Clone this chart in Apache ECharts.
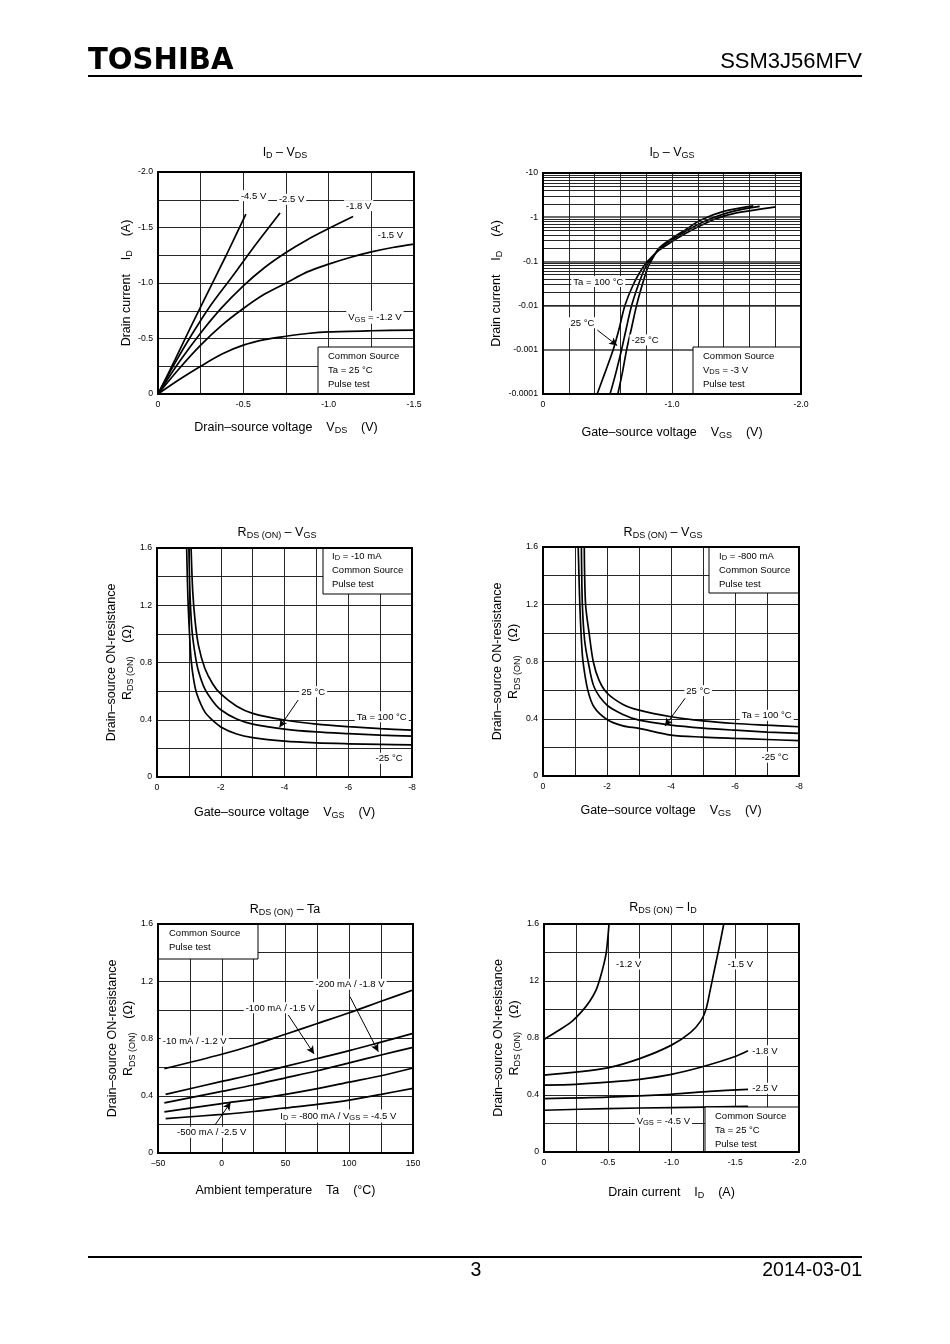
<!DOCTYPE html>
<html><head><meta charset="utf-8">
<script src="https://cdn.jsdelivr.net/npm/echarts@6/dist/echarts.min.js"></script>
<style>html,body{margin:0;padding:0;background:#fff}#c{width:950px;height:1344px}</style>
</head><body><div id="c"></div>
<script>
// ---------------- DATA ----------------
// Chart 1: ID - VDS  [VDS (V), ID (A)]
const idVds_vgs45 = [[0,0],[-0.1,-0.31],[-0.2,-0.63],[-0.3,-0.94],[-0.4,-1.25],[-0.515,-1.62]];
const idVds_vgs25 = [[0,0],[-0.1,-0.28],[-0.2,-0.54],[-0.3,-0.78],[-0.441,-1.07],[-0.55,-1.3],[-0.715,-1.63]];
const idVds_vgs18 = [[0,0],[-0.125,-0.29],[-0.25,-0.55],[-0.375,-0.78],[-0.5,-0.975],[-0.625,-1.14],[-0.75,-1.275],[-0.875,-1.39],[-1.0,-1.49],[-1.143,-1.6]];
const idVds_vgs15 = [[0,0],[-0.125,-0.23],[-0.25,-0.44],[-0.375,-0.62],[-0.5,-0.77],[-0.625,-0.9],[-0.75,-1.0],[-0.875,-1.1],[-1.0,-1.17],[-1.125,-1.23],[-1.25,-1.28],[-1.375,-1.32],[-1.5,-1.35]];
const idVds_vgs12 = [[0,0],[-0.125,-0.13],[-0.25,-0.25],[-0.375,-0.36],[-0.5,-0.44],[-0.625,-0.49],[-0.75,-0.52],[-0.875,-0.545],[-1.0,-0.56],[-1.25,-0.57],[-1.5,-0.575]];
const t1xVals = [0,-0.5,-1.0,-1.5], t1xLabels = ['0','-0.5','-1.0','-1.5'];
const t1yVals = [0,-0.5,-1.0,-1.5,-2.0], t1yLabels = ['0','-0.5','-1.0','-1.5','-2.0'];

// Chart 2: ID - VGS (log)  [VGS (V), ID (A)]
const idVgs_ta100 = [[-0.42,-0.0001],[-0.48,-0.0003],[-0.544,-0.001],[-0.59,-0.003],[-0.635,-0.01],[-0.7,-0.03],[-0.77,-0.07],[-0.81,-0.1],[-0.9,-0.18],[-1.0,-0.28],[-1.1,-0.42],[-1.2,-0.6],[-1.33,-0.9],[-1.5,-1.25],[-1.8,-1.7]];
const idVgs_ta25 = [[-0.52,-0.0001],[-0.565,-0.0003],[-0.609,-0.001],[-0.645,-0.003],[-0.687,-0.01],[-0.74,-0.03],[-0.79,-0.07],[-0.824,-0.1],[-0.9,-0.19],[-1.0,-0.31],[-1.1,-0.47],[-1.25,-0.8],[-1.45,-1.3],[-1.68,-1.75]];
const idVgs_taM25 = [[-0.58,-0.0001],[-0.615,-0.0003],[-0.648,-0.001],[-0.685,-0.003],[-0.725,-0.01],[-0.77,-0.03],[-0.81,-0.07],[-0.837,-0.1],[-0.9,-0.2],[-1.0,-0.33],[-1.1,-0.51],[-1.22,-0.85],[-1.4,-1.35],[-1.63,-1.8]];
const t2xVals = [0,-1.0,-2.0], t2xLabels = ['0','-1.0','-2.0'];
const t2yVals = [0.0001,0.001,0.01,0.1,1,10], t2yLabels = ['-0.0001','-0.001','-0.01','-0.1','-1','-10'];

// Chart 3: RDS(ON) - VGS, ID = -10 mA  [VGS (V), R (ohm)]
const r10_ta100 = [[-1.07,1.6],[-1.12,1.3],[-1.2,1.08],[-1.3,0.92],[-1.5,0.76],[-1.75,0.65],[-2,0.58],[-2.5,0.495],[-3,0.445],[-4,0.398],[-5,0.37],[-6,0.352],[-7,0.338],[-8,0.327]];
const r10_ta25 = [[-1.0,1.6],[-1.04,1.25],[-1.1,1.02],[-1.2,0.85],[-1.3,0.74],[-1.5,0.615],[-1.75,0.53],[-2,0.47],[-2.5,0.405],[-3,0.37],[-4,0.335],[-5,0.315],[-6,0.303],[-7,0.293],[-8,0.285]];
const r10_taM25 = [[-0.93,1.6],[-0.97,1.25],[-1.02,1.0],[-1.07,0.82],[-1.15,0.68],[-1.25,0.58],[-1.5,0.455],[-1.75,0.395],[-2,0.35],[-2.5,0.3],[-3,0.275],[-4,0.25],[-5,0.238],[-6,0.232],[-7,0.228],[-8,0.225]];
// Chart 4: RDS(ON) - VGS, ID = -800 mA
const r800_ta100 = [[-1.29,1.6],[-1.33,1.2],[-1.44,1.0],[-1.57,0.8],[-1.75,0.67],[-2,0.58],[-2.5,0.5],[-3,0.46],[-4,0.414],[-5,0.385],[-6,0.367],[-7,0.355],[-8,0.344]];
const r800_ta25 = [[-1.2,1.6],[-1.23,1.2],[-1.3,0.95],[-1.41,0.8],[-1.6,0.62],[-2,0.495],[-2.5,0.43],[-3,0.39],[-4,0.356],[-5,0.335],[-6,0.32],[-7,0.307],[-8,0.298]];
const r800_taM25 = [[-1.1,1.6],[-1.15,1.2],[-1.2,0.95],[-1.25,0.8],[-1.4,0.6],[-1.6,0.48],[-2,0.395],[-2.5,0.35],[-3,0.333],[-4,0.286],[-5,0.272],[-6,0.263],[-7,0.255],[-8,0.247]];
const t3xVals = [0,-2,-4,-6,-8], t3xLabels = ['0','-2','-4','-6','-8'];
const t3yVals = [0,0.4,0.8,1.2,1.6], t3yLabels = ['0','0.4','0.8','1.2','1.6'];

// Chart 5: RDS(ON) - Ta  [Ta (degC), R (ohm)]
const rTa_10mA = [[-45,0.589],[0,0.69],[25,0.755],[50,0.83],[75,0.905],[100,0.98],[125,1.06],[150,1.139]];
const rTa_100mA = [[-44,0.41],[0,0.5],[25,0.55],[50,0.605],[75,0.66],[100,0.715],[125,0.775],[150,0.836]];
const rTa_200mA = [[-45,0.35],[0,0.43],[25,0.475],[50,0.525],[75,0.575],[100,0.63],[125,0.685],[150,0.738]];
const rTa_500mA = [[-45,0.287],[0,0.345],[25,0.375],[50,0.41],[75,0.45],[100,0.495],[125,0.54],[150,0.594]];
const rTa_800mA = [[-44,0.24],[0,0.27],[25,0.29],[50,0.315],[75,0.34],[100,0.37],[125,0.41],[150,0.452]];
const t5xVals = [-50,0,50,100,150], t5xLabels = ['\u221250','0','50','100','150'];

// Chart 6: RDS(ON) - ID  [ID (A), R (ohm)]
const rId_vgs12 = [[0,0.79],[-0.1,0.845],[-0.217,0.915],[-0.3,0.99],[-0.36,1.06],[-0.41,1.14],[-0.44,1.22],[-0.47,1.32],[-0.49,1.41],[-0.51,1.6]];
const rId_vgs15 = [[0,0.54],[-0.25,0.56],[-0.5,0.59],[-0.75,0.655],[-1.0,0.75],[-1.15,0.84],[-1.23,0.92],[-1.27,1.0],[-1.3,1.12],[-1.33,1.25],[-1.37,1.42],[-1.41,1.6]];
const rId_vgs18 = [[0,0.47],[-0.25,0.475],[-0.5,0.49],[-0.75,0.51],[-1.0,0.545],[-1.25,0.6],[-1.5,0.67],[-1.6,0.71]];
const rId_vgs25 = [[0,0.375],[-0.5,0.385],[-1.0,0.405],[-1.3,0.425],[-1.6,0.44]];
const rId_vgs45 = [[0,0.293],[-0.5,0.305],[-1.0,0.312],[-1.6,0.32]];
const t6xVals = [0,-0.5,-1.0,-1.5,-2.0], t6xLabels = ['0','-0.5','-1.0','-1.5','-2.0'];
const t6yVals = [0,0.4,0.8,1.2,1.6], t6yLabels = ['0','0.4','0.8','12','1.6'];

// ---------------- LAYOUT / STYLE ----------------
const F = '"Liberation Sans", Arial, Helvetica, sans-serif';
function R(main, sub){
  return {
    n:{fontSize:main,fontFamily:F,color:'#000',fill:'#000'},
    s:{fontSize:sub,fontFamily:F,color:'#000',fill:'#000',padding:[Math.round(main*0.45),0,0,0]}
  };
}
const grids = [
  {left:158, top:172, width:256, height:222},
  {left:543, top:173, width:258, height:221},
  {left:157, top:548, width:255, height:229},
  {left:543, top:547, width:256, height:229},
  {left:158, top:924, width:255, height:229},
  {left:544, top:924, width:255, height:228}
];
const GRIDC = '#262626';
function fmt(vals, labels, log){
  return function(v){
    for (let i=0;i<vals.length;i++){
      if (log ? Math.abs(Math.log10(v)-Math.log10(vals[i]))<1e-6 : Math.abs(v-vals[i])<1e-6) return labels[i];
    }
    return '';
  };
}
function axis(i, o){
  const a = {
    gridIndex:i, type:o.type||'value', min:o.min, max:o.max, inverse:!!o.inverse,
    axisLine:{show:false}, axisTick:{show:false},
    axisLabel:{fontSize:8.7, fontFamily:F, color:'#000', margin:o.margin||5, showMinLabel:true, showMaxLabel:true,
      formatter: fmt(o.vals, o.labels, o.type==='log')},
    splitLine:{show:true, lineStyle:{color:o.splitColor||GRIDC, width:o.splitWidth||1}},
    minorTick:{show:false, splitNumber:o.minor||2},
    minorSplitLine:{show:o.type!=='log', lineStyle:{color:GRIDC, width:1}},
    name:o.name, nameLocation:'middle', nameGap:o.gap, nameRotate:o.rot,
    nameTextStyle:{fontSize:12.5, fontFamily:F, color:'#000', rich:R(12.5,9), lineHeight:16}
  };
  if (o.type==='log'){ a.logBase=10; } else { a.interval=o.interval; }
  return a;
}
const NAME_ID = '{n|Drain current    I}{s|D}{n|    (A)}';
const NAME_VDS = '{n|Drain\u2013source voltage    V}{s|DS}{n|    (V)}';
const NAME_VGS = '{n|Gate\u2013source voltage    V}{s|GS}{n|    (V)}';
const NAME_R = '{n|Drain\u2013source ON-resistance}\n{n|R}{s|DS (ON)}{n|    (\u03a9)}';
const NAME_TA = '{n|Ambient temperature    Ta    (\u00b0C)}';

const xAxes = [
  axis(0,{min:-1.5,max:0,inverse:true,interval:0.5,minor:2,vals:t1xVals,labels:t1xLabels,name:NAME_VDS,gap:26,margin:6}),
  axis(1,{min:-2,max:0,inverse:true,interval:1,minor:5,vals:t2xVals,labels:t2xLabels,name:NAME_VGS,gap:31,margin:6}),
  axis(2,{min:-8,max:0,inverse:true,interval:2,minor:2,vals:t3xVals,labels:t3xLabels,name:NAME_VGS,gap:28,margin:6}),
  axis(3,{min:-8,max:0,inverse:true,interval:2,minor:2,vals:t3xVals,labels:t3xLabels,name:NAME_VGS,gap:27,margin:6}),
  axis(4,{min:-50,max:150,interval:50,minor:2,vals:t5xVals,labels:t5xLabels,name:NAME_TA,gap:30,margin:6}),
  axis(5,{min:-2,max:0,inverse:true,interval:0.5,minor:2,vals:t6xVals,labels:t6xLabels,name:'{n|Drain current    I}{s|D}{n|    (A)}',gap:33,margin:6})
];
const yAxes = [
  axis(0,{min:-2,max:0,inverse:true,interval:0.5,minor:2,vals:t1yVals,labels:t1yLabels,name:NAME_ID,gap:23}),
  axis(1,{type:'log',min:0.0001,max:10,vals:t2yVals,labels:t2yLabels,name:NAME_ID,gap:30,splitColor:'#6a6a6a',splitWidth:2}),
  axis(2,{min:0,max:1.6,interval:0.4,minor:2,vals:t3yVals,labels:t3yLabels,name:NAME_R,gap:21}),
  axis(3,{min:0,max:1.6,interval:0.4,minor:2,vals:t3yVals,labels:t3yLabels,name:NAME_R,gap:18}),
  axis(4,{min:0,max:1.6,interval:0.4,minor:2,vals:t3yVals,labels:t3yLabels,name:NAME_R,gap:20}),
  axis(5,{min:0,max:1.6,interval:0.4,minor:2,vals:t6yVals,labels:t6yLabels,name:NAME_R,gap:21})
];

// annotations (data coordinates of label centres)
const ann = [
  [{t:'{n|-4.5 V}',x:-0.56,y:-1.787},{t:'{n|-2.5 V}',x:-0.783,y:-1.754},{t:'{n|-1.8 V}',x:-1.176,y:-1.697},{t:'{n|-1.5 V}',x:-1.362,y:-1.435},{t:'{n|V}{s|GS}{n| = -1.2 V}',x:-1.271,y:-0.691}],
  [{t:'{n|Ta = 100 \u00b0C}',x:-0.429,y:0.035},{t:'{n|25 \u00b0C}',x:-0.306,y:0.0041},{t:'{n|-25 \u00b0C}',x:-0.791,y:0.00167}],
  [{t:'{n|25 \u00b0C}',x:-4.9,y:0.596},{t:'{n|Ta = 100 \u00b0C}',x:-7.05,y:0.421},{t:'{n|-25 \u00b0C}',x:-7.28,y:0.131}],
  [{t:'{n|25 \u00b0C}',x:-4.85,y:0.596},{t:'{n|Ta = 100 \u00b0C}',x:-6.99,y:0.425},{t:'{n|-25 \u00b0C}',x:-7.25,y:0.131}],
  [{t:'{n|-200 mA / -1.8 V}',x:100.6,y:1.179},{t:'{n|-100 mA / -1.5 V}',x:45.9,y:1.015},{t:'{n|-10 mA / -1.2 V}',x:-21.2,y:0.783},{t:'{n|I}{s|D}{n| = -800 mA / V}{s|GS}{n| = -4.5 V}',x:91.4,y:0.259},{t:'{n|-500 mA / -2.5 V}',x:-7.9,y:0.145}],
  [{t:'{n|-1.2 V}',x:-0.664,y:1.319},{t:'{n|-1.5 V}',x:-1.54,y:1.319},{t:'{n|-1.8 V}',x:-1.733,y:0.711},{t:'{n|-2.5 V}',x:-1.733,y:0.447},{t:'{n|V}{s|GS}{n| = -4.5 V}',x:-0.936,y:0.218}]
];
const arrows = [
  [],
  [[[-0.421,0.0028],[-0.575,0.00125]]],
  [[[-4.43,0.538],[-3.84,0.347]]],
  [[[-4.44,0.543],[-3.81,0.349]]],
  [[[52.2,0.964],[72.4,0.692]],[[100.6,1.092],[122.8,0.708]],[[-5.3,0.196],[7,0.354]]],
  []
];

function line(i, data){
  return {type:'line', xAxisIndex:i, yAxisIndex:i, data:data, showSymbol:false, symbol:'none',
    smooth:0.3, lineStyle:{color:'#000', width:1.7}, silent:true, animation:false, z:3};
}
function decorate(s, i){
  s.markPoint = {symbol:'rect', symbolSize:0, silent:true, animation:false,
    label:{show:true, position:'inside', formatter:p=>p.name, backgroundColor:'#fff', padding:[1,2,0,2],
      fontSize:9.5, fontFamily:F, color:'#000', rich:R(9.5,7.5)},
    emphasis:{disabled:true},
    data: ann[i].map(a=>({name:a.t, coord:[a.x,a.y]}))};
  if (arrows[i].length){
    s.markLine = {silent:true, animation:false, symbol:['none','arrow'], symbolSize:[6,8],
      lineStyle:{color:'#000', width:1, type:'solid'}, label:{show:false}, emphasis:{disabled:true},
      data: arrows[i].map(a=>[{coord:a[0]},{coord:a[1]}])};
  }
  return s;
}
const neg = d => d.map(p=>[p[0], -p[1]]);
const logMinor = [];
for (let e=-4;e<1;e++) for (let k=2;k<10;k++) logMinor.push({yAxis: +(k*Math.pow(10,e)).toPrecision(3)});

const series = [
  decorate(line(0, idVds_vgs45),0), line(0, idVds_vgs25), line(0, idVds_vgs18), line(0, idVds_vgs15), line(0, idVds_vgs12),
  decorate(line(1, neg(idVgs_ta100)),1), line(1, neg(idVgs_ta25)), line(1, neg(idVgs_taM25)),
  decorate(line(2, r10_ta100),2), line(2, r10_ta25), line(2, r10_taM25),
  decorate(line(3, r800_ta100),3), line(3, r800_ta25), line(3, r800_taM25),
  decorate(line(4, rTa_10mA),4), line(4, rTa_100mA), line(4, rTa_200mA), line(4, rTa_500mA), line(4, rTa_800mA),
  decorate(line(5, rId_vgs12),5), line(5, rId_vgs15), line(5, rId_vgs18), line(5, rId_vgs25), line(5, rId_vgs45)
];
// log chart minor grid
series[6].markLine = {silent:true, animation:false, symbol:['none','none'], lineStyle:{color:GRIDC, width:1, type:'solid'},
  label:{show:false}, emphasis:{disabled:true}, data: logMinor};

// graphics: titles, boxes, borders, header/footer
const G = [];
function txt(x,y,text,size,sub,align,extra){
  G.push(Object.assign({type:'text', x:x, y:y, z:120, silent:true,
    style:{text:text, fontSize:size, fontFamily:F, fill:'#000', rich:R(size,sub),
      textAlign:align||'center', align:align||'center', textVerticalAlign:'middle', verticalAlign:'middle'}}, extra||{}));
}
const titles = [
  {x:285,y:153,t:'{n|I}{s|D}{n| \u2013 V}{s|DS}'},
  {x:672,y:153,t:'{n|I}{s|D}{n| \u2013 V}{s|GS}'},
  {x:277,y:533,t:'{n|R}{s|DS (ON)}{n| \u2013 V}{s|GS}'},
  {x:663,y:533,t:'{n|R}{s|DS (ON)}{n| \u2013 V}{s|GS}'},
  {x:285,y:910,t:'{n|R}{s|DS (ON)}{n| \u2013 Ta}'},
  {x:663,y:908,t:'{n|R}{s|DS (ON)}{n| \u2013 I}{s|D}'}
];
titles.forEach(t=>txt(t.x,t.y,t.t,12.5,9));

const boxes = [
  {x:318,y:347,w:96,h:47,tx:328,ty:356,lines:['{n|Common Source}','{n|Ta = 25 \u00b0C}','{n|Pulse test}']},
  {x:693,y:347,w:108,h:47,tx:703,ty:356,lines:['{n|Common Source}','{n|V}{s|DS}{n| = -3 V}','{n|Pulse test}']},
  {x:323,y:548,w:89,h:46,tx:332,ty:556,lines:['{n|I}{s|D}{n| = -10 mA}','{n|Common Source}','{n|Pulse test}']},
  {x:709,y:547,w:90,h:46,tx:719,ty:556,lines:['{n|I}{s|D}{n| = -800 mA}','{n|Common Source}','{n|Pulse test}']},
  {x:158,y:924,w:100,h:35,tx:169,ty:933,lines:['{n|Common Source}','{n|Pulse test}']},
  {x:705,y:1107,w:94,h:45,tx:715,ty:1116,lines:['{n|Common Source}','{n|Ta = 25 \u00b0C}','{n|Pulse test}']}
];
boxes.forEach(b=>{
  G.push({type:'rect', z:110, silent:true, shape:{x:b.x,y:b.y,width:b.w,height:b.h}, style:{fill:'#fff', stroke:'#000', lineWidth:1}});
  b.lines.forEach((l,k)=>txt(b.tx, b.ty+k*14.3, l, 9.5, 7.5, 'left'));
});
grids.forEach(g=>{
  G.push({type:'rect', z:115, silent:true, shape:{x:g.left,y:g.top,width:g.width,height:g.height}, style:{fill:'none', stroke:'#000', lineWidth:2}});
});
// header / footer
G.push({type:'text', x:88, y:61, z:120, scaleX:0.97, silent:true, style:{text:'TOSHIBA', fontSize:30, fontWeight:'bold', fontFamily:'"DejaVu Sans", sans-serif', fill:'#000', textAlign:'left', align:'left', textVerticalAlign:'middle', verticalAlign:'middle'}});
G.push({type:'text', x:862, y:62, z:120, silent:true, style:{text:'SSM3J56MFV', fontSize:22, fontFamily:F, fill:'#000', textAlign:'right', align:'right', textVerticalAlign:'middle', verticalAlign:'middle'}});
G.push({type:'line', z:120, silent:true, shape:{x1:88,y1:76,x2:862,y2:76}, style:{stroke:'#000', lineWidth:2}});
G.push({type:'line', z:120, silent:true, shape:{x1:88,y1:1257,x2:862,y2:1257}, style:{stroke:'#000', lineWidth:2}});
G.push({type:'text', x:476, y:1271, z:120, silent:true, style:{text:'3', fontSize:19.5, fontFamily:F, fill:'#000', textAlign:'center', align:'center', textVerticalAlign:'middle', verticalAlign:'middle'}});
G.push({type:'text', x:862, y:1271, z:120, silent:true, style:{text:'2014-03-01', fontSize:19.5, fontFamily:F, fill:'#000', textAlign:'right', align:'right', textVerticalAlign:'middle', verticalAlign:'middle'}});

const chart = echarts.init(document.getElementById('c'), null, {renderer:'canvas', width:950, height:1344});
chart.setOption({
  backgroundColor:'#fff',
  animation:false,
  grid: grids.map(g=>Object.assign({show:false, containLabel:false, outerBoundsMode:'none'}, g)),
  xAxis: xAxes,
  yAxis: yAxes,
  series: series,
  graphic: {elements: G}
});
</script></body></html>
